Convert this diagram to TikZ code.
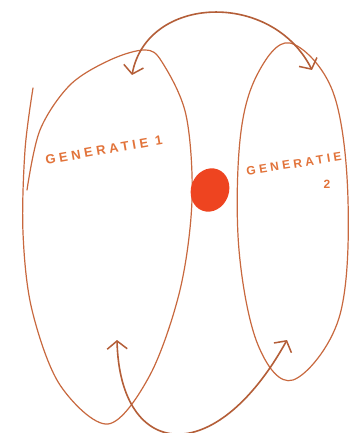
\documentclass[tikz,border=0pt]{standalone}
\usepackage{fontspec}
\newfontfamily\labelfont[LetterSpace=28]{Liberation Sans Bold}
\usetikzlibrary{arrows.meta,shapes.geometric}
\definecolor{inkline}{HTML}{C8683E}
\definecolor{inktext}{HTML}{E2733A}
\definecolor{dotred}{HTML}{EE4420}
\tikzset{
  loopline/.style={draw=inkline, line width=1.2pt, line join=round, line cap=round},
  arrowline/.style={draw=inkline!90!black, line width=1.6pt, line cap=round,
     {Straight Barb[length=8pt,width=20pt,line width=1.5pt]}-{Straight Barb[length=8pt,width=20pt,line width=1.5pt]}},
  gentext/.style={text=inktext, inner sep=0pt},
  reddot/.style={ellipse, fill=dotred, draw=none, inner sep=0pt, minimum width=38pt, minimum height=44pt}
}
\begin{document}
\begin{tikzpicture}[x=1pt,y=-1pt]
\useasboundingbox (0,0) rectangle (359,433);
\fill[white] (0,0) rectangle (359,433);
% left loop (generatie 1)
\draw[loopline] plot[smooth, tension=0.55] coordinates {
 (33,88) (25,150) (23,233) (32,310) (60,385) (108,424)
 (150,375) (180,290) (192,200) (186,115) (162,62) (145,50) (110,60)
 (70,85) (40,130) (27,190)};
% right loop (generatie 2)
\draw[loopline] plot[smooth cycle, tension=0.6] coordinates {
 (290,43) (333,92) (348,200) (339,318) (293,380) (258,345) (239,250)
 (240,140) (257,75)};
% red dot
\node[reddot, rotate=-20] (dot) at (210,190) {};
% labels
\node[gentext, font=\labelfont\fontsize{13}{13}\selectfont, rotate=10] (g1) at (104,150) {GENERATIE 1};
\node[gentext, font=\labelfont\fontsize{12}{12}\selectfont, rotate=9] (g2) at (294,164) {GENERATIE};
\node[gentext, font=\labelfont\fontsize{12}{12}\selectfont] (g2n) at (327,184) {2};
% arrows
\coordinate (ta) at (132,75);
\coordinate (tb) at (312,70);
\draw[arrowline] (ta) .. controls (147,-5) and (272,-10) .. (tb);
\coordinate (ba) at (117,340);
\coordinate (bb) at (287,340);
\draw[arrowline] (ba) .. controls (120,460) and (215,470) .. (bb);
\end{tikzpicture}
\end{document}
